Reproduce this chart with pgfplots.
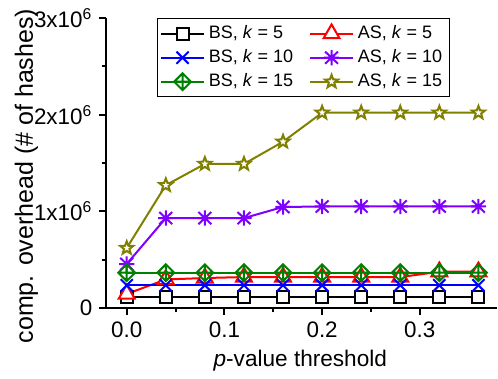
\documentclass[border=0pt]{standalone}
\usepackage{fontspec}
\setmainfont{Liberation Sans}
\usepackage{pgfplots}
\pgfplotsset{compat=1.18}
\definecolor{cpurple}{RGB}{128,0,255}
\definecolor{colive}{RGB}{128,128,0}
\definecolor{cgreen}{RGB}{0,128,0}
\pgfdeclareplotmark{diamondplus}{%
  \pgfpathmoveto{\pgfqpoint{0pt}{\pgfplotmarksize}}%
  \pgfpathlineto{\pgfqpoint{\pgfplotmarksize}{0pt}}%
  \pgfpathlineto{\pgfqpoint{0pt}{-\pgfplotmarksize}}%
  \pgfpathlineto{\pgfqpoint{-\pgfplotmarksize}{0pt}}%
  \pgfpathclose
  \pgfpathmoveto{\pgfqpoint{0pt}{\pgfplotmarksize}}%
  \pgfpathlineto{\pgfqpoint{0pt}{-\pgfplotmarksize}}%
  \pgfpathmoveto{\pgfqpoint{\pgfplotmarksize}{0pt}}%
  \pgfpathlineto{\pgfqpoint{-\pgfplotmarksize}{0pt}}%
  \pgfusepathqstroke
}
\pgfdeclareplotmark{asteight}{%
  \pgfpathmoveto{\pgfqpoint{0pt}{\pgfplotmarksize}}%
  \pgfpathlineto{\pgfqpoint{0pt}{-\pgfplotmarksize}}%
  \pgfpathmoveto{\pgfqpoint{\pgfplotmarksize}{0pt}}%
  \pgfpathlineto{\pgfqpoint{-\pgfplotmarksize}{0pt}}%
  \pgfpathmoveto{\pgfqpoint{0.85\pgfplotmarksize}{0.8\pgfplotmarksize}}%
  \pgfpathlineto{\pgfqpoint{-0.85\pgfplotmarksize}{-0.8\pgfplotmarksize}}%
  \pgfpathmoveto{\pgfqpoint{-0.85\pgfplotmarksize}{0.8\pgfplotmarksize}}%
  \pgfpathlineto{\pgfqpoint{0.85\pgfplotmarksize}{-0.8\pgfplotmarksize}}%
  \pgfusepathqstroke
}
\pgfdeclareplotmark{starfive}{%
  \pgfpathmoveto{\pgfpointpolar{90}{\pgfplotmarksize}}%
  \pgfpathlineto{\pgfpointpolar{126}{0.42\pgfplotmarksize}}%
  \pgfpathlineto{\pgfpointpolar{162}{\pgfplotmarksize}}%
  \pgfpathlineto{\pgfpointpolar{198}{0.42\pgfplotmarksize}}%
  \pgfpathlineto{\pgfpointpolar{234}{\pgfplotmarksize}}%
  \pgfpathlineto{\pgfpointpolar{270}{0.42\pgfplotmarksize}}%
  \pgfpathlineto{\pgfpointpolar{306}{\pgfplotmarksize}}%
  \pgfpathlineto{\pgfpointpolar{342}{0.42\pgfplotmarksize}}%
  \pgfpathlineto{\pgfpointpolar{18}{\pgfplotmarksize}}%
  \pgfpathlineto{\pgfpointpolar{54}{0.42\pgfplotmarksize}}%
  \pgfpathclose
  \pgfusepathqfillstroke
}
\begin{document}
\begin{tikzpicture}
\path[use as bounding box] (-53pt,-35.5pt) rectangle (196pt,154pt);
\begin{axis}[
  at={(0,0)}, anchor=south west,
  scale only axis, width=195.5pt, height=145pt,
  xmin=-0.0212, xmax=0.379, ymin=0, ymax=3000000,
  scaled y ticks=false, scaled x ticks=false,
  axis lines*=left,
  axis line style={line width=1pt, black},
  xtick={0,0.1,0.2,0.3}, xticklabels={0.0,0.1,0.2,0.3},
  ytick={0,1000000,2000000,3000000},
  yticklabels={0,1x10\textsuperscript{6},2x10\textsuperscript{6},3x10\textsuperscript{6}},
  minor x tick num=1, minor y tick num=1,
  tick align=outside, major tick length=3.3pt, minor tick length=2.2pt,
  every tick/.style={black, line width=1pt},
  tick label style={font=\fontsize{11.2}{12}\selectfont},
  xlabel={\textit{p}-value threshold},
  ylabel={comp. overhead (\# of hashes)},
  xlabel style={font=\fontsize{11.3}{13}\selectfont, at={(axis description cs:0.497,0)}, anchor=base, yshift=-29.3pt},
  ylabel style={font=\fontsize{12.5}{14}\selectfont, at={(axis description cs:-0.1867,0.455)}, anchor=base},
  every axis plot/.append style={line width=1pt},
  legend columns=2,
  legend cell align=left,
  legend image code/.code={\draw[mark repeat=2,mark phase=2] plot coordinates {(0cm,0cm) (0.375cm,0cm) (0.75cm,0cm)};},
  legend style={at={(rel axis cs:0.1295,1)}, anchor=north west, draw=black, line width=0.6pt,
    font=\fontsize{9}{10.5}\selectfont, inner sep=1.5pt, row sep=0pt,
    /tikz/every even column/.append style={column sep=6pt}},
]
\addplot[black, mark=square*, mark options={fill=white, solid}, mark size=3pt] coordinates {
(0,115000) (0.04,115000) (0.08,115000) (0.12,115000) (0.16,115000) (0.20,115000) (0.24,115000) (0.28,115000) (0.32,115000) (0.36,115000)};
\addlegendentry{BS, \textit{k} = 5}
\addplot[red, mark=triangle*, mark options={fill=white, solid}, mark size=4.6pt] coordinates {
(0,145000) (0.04,295000) (0.08,310000) (0.12,320000) (0.16,320000) (0.20,320000) (0.24,320000) (0.28,320000) (0.32,375000) (0.36,375000)};
\addlegendentry{AS, \textit{k} = 5}
\addplot[blue, mark=x, mark size=4.3pt] coordinates {
(0,235000) (0.04,235000) (0.08,235000) (0.12,235000) (0.16,235000) (0.20,235000) (0.24,235000) (0.28,235000) (0.32,235000) (0.36,235000)};
\addlegendentry{BS, \textit{k} = 10}
\addplot[cpurple, mark=asteight, mark size=3.8pt] coordinates {
(0,455000) (0.04,930000) (0.08,930000) (0.12,930000) (0.16,1045000) (0.20,1050000) (0.24,1050000) (0.28,1050000) (0.32,1050000) (0.36,1050000)};
\addlegendentry{AS, \textit{k} = 10}
\addplot[cgreen, mark=diamondplus, mark size=4.2pt] coordinates {
(0,365000) (0.04,365000) (0.08,365000) (0.12,365000) (0.16,365000) (0.20,365000) (0.24,365000) (0.28,365000) (0.32,365000) (0.36,365000)};
\addlegendentry{BS, \textit{k} = 15}
\addplot[colive, mark=starfive, mark options={fill=white, solid}, mark size=3.4pt] coordinates {
(0,620000) (0.04,1270000) (0.08,1490000) (0.12,1490000) (0.16,1720000) (0.20,2020000) (0.24,2020000) (0.28,2020000) (0.32,2020000) (0.36,2020000)};
\addlegendentry{AS, \textit{k} = 15}
\end{axis}
\end{tikzpicture}
\end{document}
